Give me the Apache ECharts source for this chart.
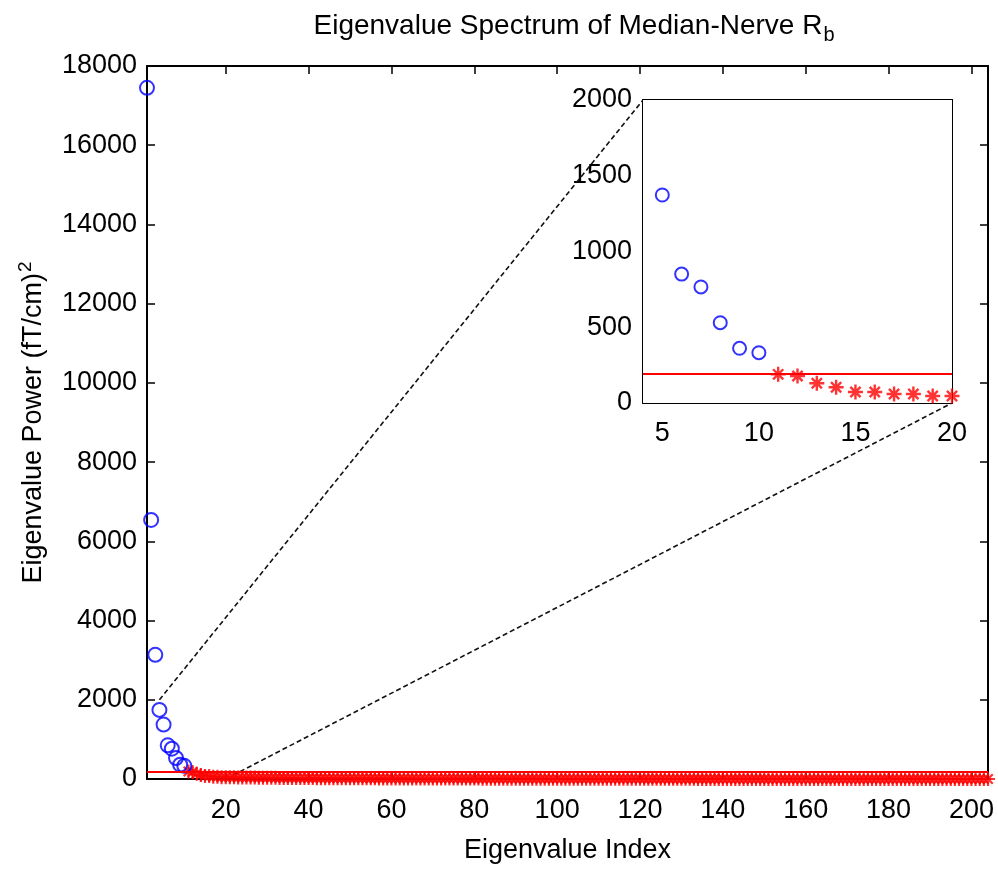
<!DOCTYPE html>
<html>
<head>
<meta charset="utf-8">
<script src="https://cdn.jsdelivr.net/npm/echarts@6/dist/echarts.min.js"></script>
<style>html,body{margin:0;padding:0;background:#fff;}#c{width:998px;height:869px;}</style>
</head>
<body>
<div id="c"></div>
<script>
// ---- data ----
const blueIdx = [1, 2, 3, 4, 5, 6, 7, 8, 9, 10];
const blueVals = [17450, 6540, 3135, 1745, 1373, 851, 766, 530, 361, 332];
const starStart = 11;
const starVals = [
  189, 178, 130, 104, 73, 73, 59, 59, 46, 46,
  44, 42, 40, 39, 37, 36, 35, 33, 32, 31,
  30, 29, 28, 27.5, 26.5, 26, 25, 24.5, 24, 23,
  22.5, 22, 21.5, 21, 20.5, 20, 19.5, 19, 18.6, 18.2,
  17.8, 17.4, 17, 16.7, 16.3, 16, 15.6, 15.3, 15, 14.7,
  14.4, 14.1, 13.8, 13.5, 13.2, 13, 12.7, 12.4, 12.2, 11.9,
  11.7, 11.4, 11.2, 11, 10.8, 10.5, 10.3, 10.1, 9.9, 9.7,
  9.5, 9.3, 9.1, 8.9, 8.8, 8.6, 8.4, 8.2, 8.1, 7.9,
  7.7, 7.6, 7.4, 7.3, 7.1, 7, 6.8, 6.7, 6.5, 6.4,
  6.3, 6.1, 6, 5.9, 5.8, 5.6, 5.5, 5.4, 5.3, 5.2,
  5.1, 5, 4.9, 4.8, 4.7, 4.6, 4.5, 4.4, 4.3, 4.2,
  4.1, 4, 3.95, 3.9, 3.8, 3.7, 3.65, 3.6, 3.5, 3.4,
  3.35, 3.3, 3.2, 3.15, 3.1, 3, 2.95, 2.9, 2.85, 2.8,
  2.7, 2.65, 2.6, 2.55, 2.5, 2.45, 2.4, 2.35, 2.3, 2.25,
  2.2, 2.15, 2.1, 2.05, 2, 1.95, 1.9, 1.85, 1.8, 1.76,
  1.72, 1.68, 1.64, 1.6, 1.56, 1.52, 1.48, 1.44, 1.4, 1.37,
  1.34, 1.3, 1.27, 1.24, 1.2, 1.17, 1.14, 1.1, 1.07, 1.04,
  1.01, 0.98, 0.95, 0.92, 0.89, 0.86, 0.83, 0.8, 0.77, 0.74,
  0.71, 0.68, 0.65, 0.62, 0.59, 0.56, 0.53, 0.5, 0.47, 0.44,
  0.4, 0.36, 0.32, 0.28
];
const threshold = 190;
const mainXRange = [1, 204];
const mainYRange = [0, 18000];
const mainXTicks = [20, 40, 60, 80, 100, 120, 140, 160, 180, 200];
const mainYInterval = 2000;
const zoomXRange = [4, 20];
const zoomYRange = [0, 2000];
const zoomXTicks = [5, 10, 15, 20];
const zoomYInterval = 500;

// ---- build ----
const FONT = 'Liberation Sans';
const FS = 27;
const starPts = starVals.map((v, i) => [starStart + i, v]);
const bluePts = blueVals.map((v, i) => [blueIdx[i], v]);
const inZoom = p => p[0] >= zoomXRange[0] + 1 && p[0] <= zoomXRange[1];
const STAR = 'path://M5 0L5 10M0 5L10 5M1.6 1.6L8.4 8.4M1.6 8.4L8.4 1.6';
const plain = v => String(v);

function xAx(grid, range, ticks, pos, showLabel, tickLen, fs, margin) {
  return {
    type: 'value', gridIndex: grid, position: pos, min: range[0], max: range[1],
    axisLine: { show: true, onZero: false, lineStyle: { color: '#000', width: 2 } },
    axisTick: { show: true, inside: true, length: tickLen, customValues: ticks, lineStyle: { color: '#000', width: 1.5 } },
    axisLabel: { show: showLabel, customValues: ticks, formatter: plain, color: '#000', fontFamily: FONT, fontSize: fs, margin: margin },
    splitLine: { show: false }
  };
}
function yAx(grid, range, interval, pos, showLabel, tickLen, fs, margin) {
  return {
    type: 'value', gridIndex: grid, position: pos, min: range[0], max: range[1], interval: interval,
    axisLine: { show: true, onZero: false, lineStyle: { color: '#000', width: 2 } },
    axisTick: { show: true, inside: true, length: tickLen, lineStyle: { color: '#000', width: 1.5 } },
    axisLabel: { show: showLabel, formatter: plain, color: '#000', fontFamily: FONT, fontSize: fs, margin: margin },
    splitLine: { show: false }
  };
}

const xMain = xAx(0, mainXRange, mainXTicks, 'bottom', true, 8, FS, 18);
xMain.name = 'Eigenvalue Index';
xMain.nameLocation = 'middle';
xMain.nameGap = 58;
xMain.nameTextStyle = { color: '#000', fontFamily: FONT, fontSize: FS };
const yMain = yAx(0, mainYRange, mainYInterval, 'left', true, 8, FS, 10);
yMain.name = '{a|Eigenvalue Power (fT/cm)}{s|2}';
yMain.nameLocation = 'middle';
yMain.nameRotate = 90;
yMain.nameGap = 96;
yMain.nameTextStyle = {
  color: '#000', fontFamily: FONT, fontSize: FS,
  rich: {
    a: { color: '#000', fontFamily: FONT, fontSize: FS },
    s: { color: '#000', fontFamily: FONT, fontSize: 19, padding: [0, 0, 16, 1] }
  }
};

const option = {
  animation: false,
  backgroundColor: '#fff',
  title: {
    text: '{a|Eigenvalue Spectrum of Median-Nerve R}{b|b}',
    left: 569, top: 3, textAlign: 'center',
    textStyle: {
      fontWeight: 'normal',
      rich: {
        a: { color: '#000', fontFamily: FONT, fontSize: 28, fontWeight: 'normal' },
        b: { color: '#000', fontFamily: FONT, fontSize: 20, fontWeight: 'normal', padding: [17, 0, 0, 1] }
      }
    }
  },
  grid: [
    { left: 147, top: 66, right: 10, bottom: 86, containLabel: false },
    { left: 643, top: 100, width: 309, height: 303, show: true, backgroundColor: '#fff', borderWidth: 0, z: 3 }
  ],
  xAxis: [
    xMain,
    xAx(0, mainXRange, mainXTicks, 'top', false, 8, FS, 14),
    xAx(1, zoomXRange, zoomXTicks, 'bottom', true, 5, FS, 17),
    xAx(1, zoomXRange, zoomXTicks, 'top', false, 5, FS, 13)
  ],
  yAxis: [
    yMain,
    yAx(0, mainYRange, mainYInterval, 'right', false, 8, FS, 10),
    yAx(1, zoomYRange, zoomYInterval, 'left', true, 5, FS, 11),
    yAx(1, zoomYRange, zoomYInterval, 'right', false, 5, FS, 11)
  ],
  series: [
    {
      type: 'scatter', xAxisIndex: 0, yAxisIndex: 0, data: starPts, clip: false,
      symbol: STAR, symbolSize: 14,
      itemStyle: { color: 'none', borderColor: '#ff0000', borderWidth: 2.2 },
      markLine: {
        silent: true, symbol: ['none', 'none'], label: { show: false },
        lineStyle: { color: '#ff0000', width: 2, type: 'solid' },
        data: [{ yAxis: threshold }]
      }
    },
    {
      type: 'scatter', xAxisIndex: 0, yAxisIndex: 0, data: bluePts, clip: false,
      symbol: 'circle', symbolSize: 14,
      itemStyle: { color: 'none', borderColor: '#0000ff', borderWidth: 2 }
    },
    {
      type: 'scatter', xAxisIndex: 2, yAxisIndex: 2, data: starPts.filter(inZoom), clip: false, z: 5,
      symbol: STAR, symbolSize: 15,
      itemStyle: { color: 'none', borderColor: '#ff0000', borderWidth: 2.4 },
      markLine: {
        silent: true, symbol: ['none', 'none'], label: { show: false },
        lineStyle: { color: '#ff0000', width: 2, type: 'solid' },
        data: [{ yAxis: threshold }]
      }
    },
    {
      type: 'scatter', xAxisIndex: 2, yAxisIndex: 2, data: bluePts.filter(inZoom), clip: false, z: 5,
      symbol: 'circle', symbolSize: 13,
      itemStyle: { color: 'none', borderColor: '#0000ff', borderWidth: 2 }
    }
  ]
};

const chart = echarts.init(document.getElementById('c'), null, { renderer: 'canvas' });
chart.setOption(option);

// zoom connector lines, positioned through the two grids' scales
const a1 = chart.convertToPixel({ gridIndex: 0 }, [zoomXRange[0], zoomYRange[1]]);
const b1 = chart.convertToPixel({ gridIndex: 1 }, [zoomXRange[0], zoomYRange[1]]);
const a2 = chart.convertToPixel({ gridIndex: 0 }, [zoomXRange[1], zoomYRange[0]]);
const b2 = chart.convertToPixel({ gridIndex: 1 }, [zoomXRange[1], zoomYRange[0]]);
const dash = { stroke: '#111', lineWidth: 1.6, lineDash: [5, 3] };
chart.setOption({
  graphic: [
    { type: 'line', z: 1, silent: true, shape: { x1: a1[0], y1: a1[1], x2: b1[0], y2: b1[1] }, style: dash },
    { type: 'line', z: 1, silent: true, shape: { x1: a2[0], y1: a2[1], x2: b2[0], y2: b2[1] }, style: dash }
  ]
});
</script>
</body>
</html>
